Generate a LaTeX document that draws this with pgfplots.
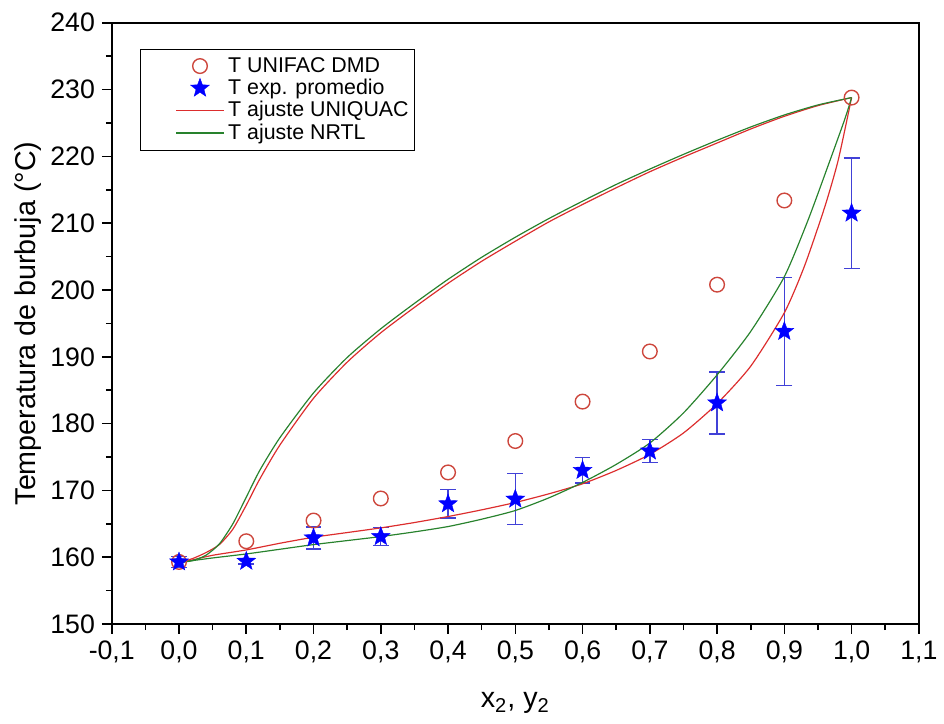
\documentclass[border=0pt]{standalone}
\usepackage{fontspec}
\setmainfont{Liberation Sans}
\usepackage{pgfplots}
\pgfplotsset{compat=1.18}
\definecolor{unired}{RGB}{220,45,45}
\definecolor{circred}{RGB}{205,70,60}
\definecolor{nrtlgreen}{RGB}{40,130,45}
\definecolor{errblue}{RGB}{65,65,215}

% filled five-pointed star
\pgfdeclareplotmark{fstar}{%
  \pgfpathmoveto{\pgfpointpolar{90}{\pgfplotmarksize}}%
  \pgfpathlineto{\pgfpointpolar{126}{0.42\pgfplotmarksize}}%
  \pgfpathlineto{\pgfpointpolar{162}{\pgfplotmarksize}}%
  \pgfpathlineto{\pgfpointpolar{198}{0.42\pgfplotmarksize}}%
  \pgfpathlineto{\pgfpointpolar{234}{\pgfplotmarksize}}%
  \pgfpathlineto{\pgfpointpolar{270}{0.42\pgfplotmarksize}}%
  \pgfpathlineto{\pgfpointpolar{306}{\pgfplotmarksize}}%
  \pgfpathlineto{\pgfpointpolar{342}{0.42\pgfplotmarksize}}%
  \pgfpathlineto{\pgfpointpolar{18}{\pgfplotmarksize}}%
  \pgfpathlineto{\pgfpointpolar{54}{0.42\pgfplotmarksize}}%
  \pgfpathclose
  \pgfusepathqfillstroke
}

\begin{document}
\begin{tikzpicture}
\begin{axis}[
  scale only axis,
  width=408pt, height=304pt,
  xmin=-0.1, xmax=1.1, ymin=150, ymax=240,
  xtick={-0.1,0,0.1,0.2,0.3,0.4,0.5,0.6,0.7,0.8,0.9,1.0,1.1},
  ytick={150,160,...,240},
  minor x tick num=1, minor y tick num=1,
  tick align=outside, xtick pos=bottom, ytick pos=left,
  major tick length=5pt, minor tick length=3pt,
  axis line style={line width=1pt}, tick style={line width=0.8pt, black},
  x tick label style={/pgf/number format/.cd, fixed, fixed zerofill, precision=1, use comma, assume math mode=true},
  y tick label style={/pgf/number format/assume math mode=true},
  tick label style={font=\fontsize{13.5}{15}\selectfont},
  xlabel={x\textsubscript{2}, y\textsubscript{2}},
  ylabel={Temperatura de burbuja (°C)},
  label style={font=\fontsize{14.5}{16}\selectfont},
  xlabel style={at={(rel axis cs:0.5,0)}, anchor=center, yshift=-40pt},
  ylabel style={at={(rel axis cs:0,0.5)}, anchor=center, yshift=42.5pt},
  legend style={at={(0.035,0.957)}, anchor=north west, draw=black, line width=0.6pt,
    font=\fontsize{10.8}{13}\selectfont, inner xsep=1pt, inner ysep=2pt,
    row sep=-2pt},
  legend cell align=left,
  legend image code/.code={%
    \path[draw=none, fill=none] (0cm,0cm) rectangle (0.6cm,0cm);
    \draw[mark repeat=2,mark phase=2,#1] plot coordinates {(0.6cm,0cm) (1.02cm,0cm) (1.44cm,0cm)};},
]
\coordinate (tl) at (rel axis cs:0,1);
\coordinate (br) at (rel axis cs:1,0);
% T UNIFAC DMD
\addplot[only marks, mark=o, mark size=3.7pt, circred, mark options={line width=0.7pt}] coordinates {
  (0.0,159.3) (0.1,162.4) (0.2,165.5) (0.3,168.8) (0.4,172.7) (0.5,177.4)
  (0.6,183.3) (0.7,190.8) (0.8,200.8) (0.9,213.4) (1.0,228.8)
};
\addlegendentry{T UNIFAC DMD}
% T exp. promedio
\addplot[only marks, mark=fstar, blue, mark options={fill=blue, draw=blue, line width=0.2pt}, mark size=5pt,
  error bars/.cd, y dir=both, y explicit,
  error bar style={errblue, line width=0.7pt},
  error mark options={errblue, rotate=90, mark size=4pt, line width=0.7pt}]
  coordinates {
  (0.0,159.3) +- (0,0.8)
  (0.1,159.4) +- (0,0.4)
  (0.2,162.9) +- (0,1.65)
  (0.3,163.1) +- (0,1.35)
  (0.4,168.0) +- (0,2.1)
  (0.5,168.7) +- (0,3.8)
  (0.6,173.0) +- (0,1.9)
  (0.7,175.9) +- (0,1.75)
  (0.8,183.1) +- (0,4.65)
  (0.9,193.8) +- (0,8.05)
  (1.0,211.5) +- (0,8.25)
};
\addlegendentry{T exp. promedio}
% UNIQUAC bubble curve
\addplot[unired, line width=0.6pt, smooth, tension=0.4] coordinates {
  (0,159.2) (0.02,159.6) (0.05,160.3) (0.1,161.1) (0.15,162.1) (0.2,163.0)
  (0.25,163.7) (0.3,164.4) (0.35,165.2) (0.4,166.1) (0.45,167.1) (0.5,168.2)
  (0.55,169.5) (0.6,171.0) (0.65,173.0) (0.7,175.4) (0.75,178.6) (0.8,183.0)
  (0.85,188.6) (0.9,196.6) (0.93,203.6) (0.96,212.4) (0.98,219.4) (1.0,228.8)
};
\addlegendentry{T ajuste UNIQUAC}
% NRTL bubble curve
\addplot[nrtlgreen, line width=0.6pt, smooth, tension=0.4] coordinates {
  (0,159.2) (0.02,159.5) (0.05,159.9) (0.1,160.5) (0.15,161.2) (0.2,161.9)
  (0.25,162.5) (0.3,163.1) (0.35,163.8) (0.4,164.6) (0.45,165.7) (0.5,167.0)
  (0.55,168.9) (0.6,171.2) (0.65,173.9) (0.7,177.1) (0.75,181.6) (0.8,187.3)
  (0.85,193.8) (0.9,202.0) (0.935,210.4) (0.965,218.6) (0.99,225.6) (1.0,228.8)
};
\addlegendentry{T ajuste NRTL}
% UNIQUAC dew curve
\addplot[unired, line width=0.6pt, smooth, tension=0.4, forget plot] coordinates {
  (0,159.2) (0.02,159.8) (0.04,160.7) (0.06,161.9) (0.08,164.2) (0.10,167.8)
  (0.12,171.7) (0.15,176.8) (0.2,183.8) (0.25,189.2) (0.3,193.6) (0.35,197.4)
  (0.4,201.0) (0.45,204.3) (0.5,207.3) (0.55,210.2) (0.6,212.8) (0.65,215.3)
  (0.7,217.7) (0.75,219.9) (0.8,222.0) (0.85,224.1) (0.9,226.0) (0.95,227.6)
  (1.0,228.8)
};
% NRTL dew curve
\addplot[nrtlgreen, line width=0.6pt, smooth, tension=0.4, forget plot] coordinates {
  (0,159.2) (0.02,159.5) (0.04,160.3) (0.06,162.0) (0.08,165.0) (0.10,169.0)
  (0.12,173.0) (0.15,177.9) (0.2,184.6) (0.25,189.9) (0.3,194.2) (0.35,198.0)
  (0.4,201.6) (0.45,204.9) (0.5,207.9) (0.55,210.7) (0.6,213.3) (0.65,215.8)
  (0.7,218.1) (0.75,220.3) (0.8,222.4) (0.85,224.4) (0.9,226.2) (0.95,227.7)
  (1.0,228.8)
};
\end{axis}
\path (tl) ++(-56.5pt,11.5pt) coordinate (bbtl);
\path (br) ++(9pt,-50pt) coordinate (bbbr);
\end{tikzpicture}
\end{document}
